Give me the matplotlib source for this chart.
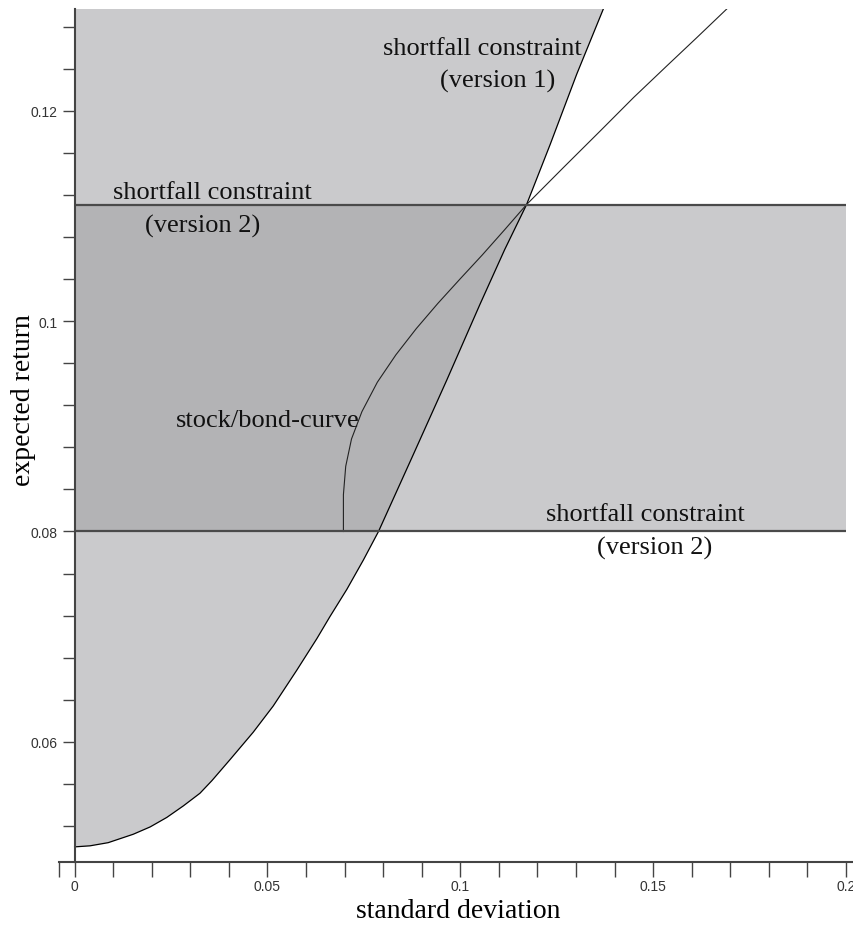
# IMPORTS
import matplotlib
matplotlib.use("Agg")
import matplotlib.pyplot as plt
from matplotlib.ticker import FixedLocator, MultipleLocator, FuncFormatter

# CONSTANTS
WIDTH = 854
HEIGHT = 928
DPI = 100

SERIF = "Liberation Serif"
SANS = "Liberation Sans"

SHADE = "#a2a2a4"   # overlapping translucent fills give the darker grey
SHADE_ALPHA = 0.56

# Shortfall constraint (version 1): boundary of the admissible area
SD_V1 = [0.0, 0.0040, 0.0087, 0.0152, 0.0196, 0.0239, 0.0282, 0.0325, 0.0356,
         0.0403, 0.0463, 0.0515, 0.0576, 0.0628, 0.0662, 0.0706, 0.0749, 0.0788,
         0.0878, 0.0965, 0.1051, 0.1115, 0.1172, 0.1233, 0.1302, 0.1371]
RET_V1 = [0.0500, 0.0501, 0.0504, 0.0512, 0.0519, 0.0528, 0.0539, 0.0551, 0.0563,
          0.0583, 0.0609, 0.0634, 0.0668, 0.0698, 0.0719, 0.0745, 0.0773, 0.0800,
          0.0873, 0.0944, 0.1016, 0.1068, 0.1111, 0.1168, 0.1235, 0.1297]

# Stock/bond mixtures
SD_SB = [0.0697, 0.0697, 0.0703, 0.0718, 0.0745, 0.0785, 0.0833, 0.0886, 0.0942,
         0.0999, 0.1057, 0.1115, 0.1172, 0.1267, 0.1363, 0.1450, 0.1536, 0.1614,
         0.1691]
RET_SB = [0.0800, 0.0835, 0.0862, 0.0888, 0.0914, 0.0942, 0.0968, 0.0993, 0.1017,
          0.1040, 0.1063, 0.1087, 0.1111, 0.1146, 0.1181, 0.1213, 0.1243, 0.1270,
          0.1297]

# Shortfall constraint (version 2): band of admissible returns
BAND_LOW = 0.08
BAND_HIGH = 0.1111
BAND_SD_MAX = 0.2

X_RANGE = (-0.0041, 0.2021)
Y_RANGE = (0.04859, 0.1297)

X_MAJOR = [0, 0.05, 0.1, 0.15, 0.2]
Y_MAJOR = [0.06, 0.08, 0.1, 0.12]

# MAIN CODE
fig = plt.figure(figsize=(WIDTH / DPI, HEIGHT / DPI), dpi=DPI, facecolor="white")
ax = fig.add_axes([58.8 / WIDTH, (HEIGHT - 862.7) / HEIGHT,
                   (WIDTH - 58.8) / WIDTH, (862.7 - 10) / HEIGHT])
ax.set_xlim(*X_RANGE)
ax.set_ylim(*Y_RANGE)

# Area left of the version 1 constraint
ax.fill(SD_V1 + [0.0], RET_V1 + [Y_RANGE[1]], color=SHADE, alpha=SHADE_ALPHA, lw=0)
# Band between the two version 2 limits
ax.fill_between([0.0, BAND_SD_MAX], BAND_LOW, BAND_HIGH, color=SHADE, alpha=SHADE_ALPHA, lw=0)

# Curves and limits
ax.plot(SD_V1, RET_V1, color="black", lw=0.9)
ax.plot(SD_SB, RET_SB, color="#222222", lw=0.8)
ax.hlines([BAND_LOW, BAND_HIGH], 0.0, BAND_SD_MAX, color="#4a4a4a", lw=1.6)

# Axes through the origin
for side in ["top", "right"]:
    ax.spines[side].set_visible(False)
ax.spines["left"].set_position(("data", 0))
for side in ["left", "bottom"]:
    ax.spines[side].set_color("#444444")
    ax.spines[side].set_linewidth(1.5)

fmt = FuncFormatter(lambda v, pos: "%g" % v)
ax.xaxis.set_major_locator(FixedLocator(X_MAJOR))
ax.xaxis.set_minor_locator(FixedLocator([X_RANGE[0]] + [i / 100 for i in range(21)]))
ax.yaxis.set_major_locator(FixedLocator(Y_MAJOR))
ax.yaxis.set_minor_locator(MultipleLocator(0.004))
ax.xaxis.set_major_formatter(fmt)
ax.yaxis.set_major_formatter(fmt)

ax.tick_params(which="both", direction="out", color="#444444", width=1.0)
ax.tick_params(axis="x", which="both", length=10.5, pad=2)
ax.tick_params(axis="y", which="both", length=8.5, pad=3.5)
for lab in ax.get_xticklabels() + ax.get_yticklabels():
    lab.set_fontfamily(SANS)
    lab.set_fontsize(10)
    lab.set_color("#333333")

# Axis titles
fig.text(458 / WIDTH, 1 - 912 / HEIGHT, "standard deviation", family=SERIF,
         fontsize=20, ha="center", va="center")
fig.text(24 / WIDTH, 1 - 400 / HEIGHT, "expected return", family=SERIF,
         fontsize=20, ha="center", va="center", rotation=90)

# Labels inside the plot
labels = [
    ("shortfall constraint", 0.1057, 0.1260),
    ("(version 1)", 0.1097, 0.1229),
    ("shortfall constraint", 0.0356, 0.1123),
    ("(version 2)", 0.0331, 0.1091),
    ("stock/bond-curve", 0.0500, 0.0906),
    ("shortfall constraint", 0.1479, 0.0817),
    ("(version 2)", 0.1505, 0.0785),
]
for text, x, y in labels:
    ax.text(x, y, text, family=SERIF, fontsize=19, ha="center", va="center", color="#111111")

fig.savefig("out.png", dpi=DPI, facecolor="white")
plt.close(fig)
